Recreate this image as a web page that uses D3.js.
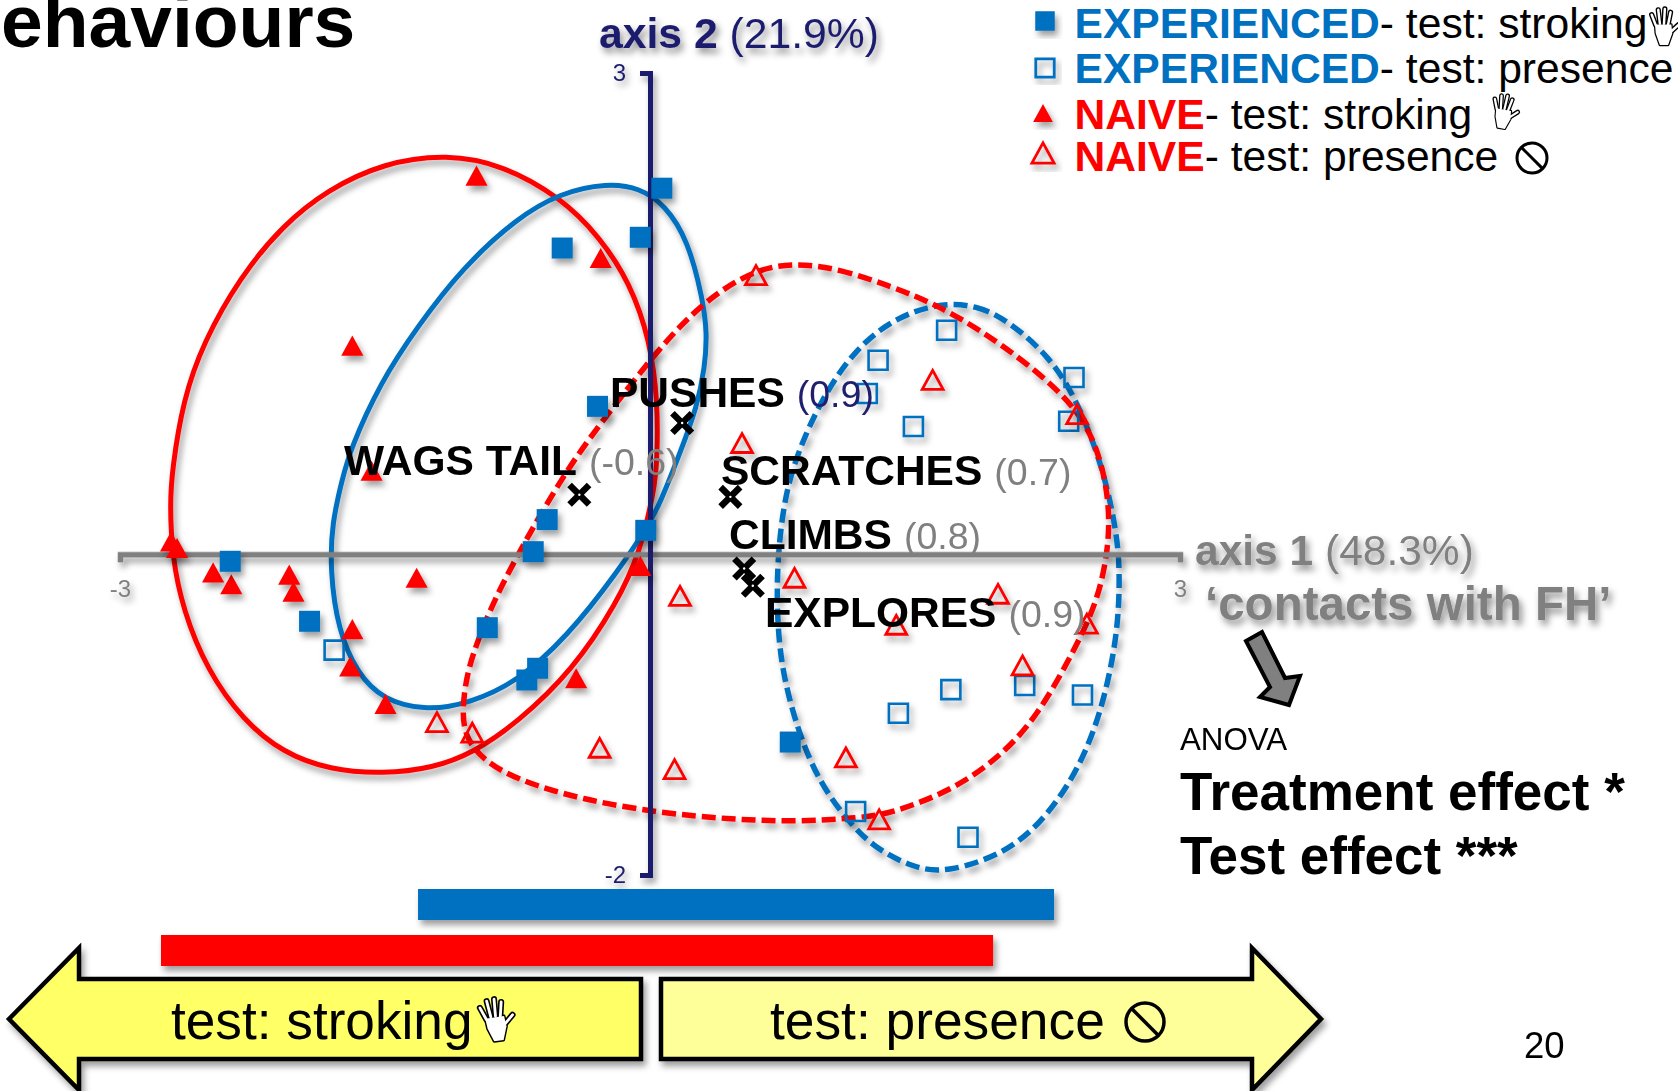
<!DOCTYPE html>
<html><head><meta charset="utf-8">
<script src="https://cdn.jsdelivr.net/npm/d3@7"></script>
<style>body{margin:0;background:#fff}svg{display:block}text{font-family:"Liberation Sans",Arial,sans-serif}</style>
</head><body><svg id="c" width="1678" height="1091"></svg>
<script>
// ---- data, in axis units ----
const expStroking=[[.067,2.293],[-.055,1.987],[-.497,1.92],[-.297,.933],[-.582,.227],[-.661,.027],[-.024,.16],[-2.376,-.033],[-1.927,-.407],[-.921,-.447],[-.636,-.70],[-.697,-.773],[.794,-1.16]];
const expPresence=[[1.679,1.407],[1.291,1.22],[1.23,1.013],[1.491,.807],[2.4,1.113],[2.37,.84],[-1.788,-.587],[1.703,-.833],[1.406,-.98],[2.121,-.807],[2.448,-.867],[1.164,-1.593],[1.8,-1.753]];
const naiveStroking=[[-.982,2.36],[-.279,1.847],[-1.685,1.3],[-1.576,.52],[-2.711,.079],[-2.677,.039],[-2.473,-.113],[-2.37,-.187],[-2.042,-.127],[-2.018,-.233],[-1.321,-.147],[-1.685,-.467],[-1.697,-.70],[-1.497,-.933],[-.418,-.773],[-.055,-.073]];
const naivePresence=[[.6,1.74],[1.6,1.087],[2.418,.873],[.521,.693],[.17,-.26],[.818,-.147],[1.97,-.247],[2.473,-.433],[1.394,-.44],[2.109,-.693],[1.109,-1.267],[1.297,-1.653],[.139,-1.34],[-.285,-1.207],[-1.006,-1.113],[-1.206,-1.047]];
const behaviourNames=["PUSHES","WAGS TAIL","SCRATCHES","CLIMBS","EXPLORES"];
const behaviourLoadings=["(0.9)","(-0.6)","(0.7)","(0.8)","(0.9)"];
const behaviourPoints=[[.182,.827],[-.4,.38],[.455,.367],[.533,-.08],[.582,-.187]];
const outlineNaiveStroking=[[-1.149,2.495],[-.832,2.426],[-.509,2.227],[-.283,1.977],[-.113,1.691],[0,1.335],[.045,.943],[.04,.587],[.028,.419],[-.057,.007],[-.187,-.304],[-.436,-.722],[-.753,-1.052],[-1.002,-1.239],[-1.228,-1.333],[-1.511,-1.37],[-1.811,-1.345],[-2.077,-1.239],[-2.304,-1.034],[-2.507,-.722],[-2.643,-.348],[-2.705,-.017],[-2.717,.319],[-2.705,.525],[-2.643,.961],[-2.53,1.317],[-2.321,1.728],[-2.077,2.052],[-1.828,2.27],[-1.511,2.439]];
const outlineExpStroking=[[-.243,2.314],[-.057,2.283],[.085,2.177],[.215,1.959],[.3,1.585],[.323,1.379],[.311,1.167],[.266,.918],[.17,.631],[.057,.319],[0,.195],[-.187,-.117],[-.47,-.516],[-.753,-.797],[-1.019,-.928],[-1.262,-.977],[-1.511,-.909],[-1.658,-.741],[-1.766,-.473],[-1.811,-.098],[-1.8,.195],[-1.743,.463],[-1.698,.65],[-1.528,1.067],[-1.319,1.416],[-1.058,1.79],[-.753,2.096],[-.509,2.252]];
const outlineNaivePresence=[[.809,1.815],[1.058,1.784],[1.375,1.666],[1.624,1.554],[1.868,1.398],[2.134,1.192],[2.417,.918],[2.547,.631],[2.604,.294],[2.592,.007],[2.53,-.304],[2.394,-.616],[2.19,-1.015],[1.981,-1.264],[1.715,-1.47],[1.375,-1.613],[1.189,-1.645],[.809,-1.669],[.436,-1.651],[.057,-1.613],[-.379,-1.532],[-.753,-1.408],[-.945,-1.283],[-1.047,-1.14],[-1.064,-.971],[-1.036,-.741],[-.974,-.535],[-.889,-.304],[-.736,.026],[-.481,.512],[-.266,.837],[.057,1.292],[.3,1.572],[.583,1.772]];
const outlineExpPresence=[[1.624,1.566],[1.851,1.554],[2.038,1.448],[2.264,1.229],[2.417,.961],[2.564,.544],[2.643,.132],[2.66,-.117],[2.649,-.491],[2.564,-.953],[2.434,-1.327],[2.247,-1.638],[2.021,-1.863],[1.681,-1.987],[1.489,-1.956],[1.262,-1.825],[1.115,-1.657],[.962,-1.426],[.849,-1.14],[.753,-.766],[.719,-.429],[.719,-.036],[.764,.382],[.849,.668],[.962,.943],[1.132,1.242],[1.358,1.46]];
const rangeExperienced=[-1.313,2.287];
const rangeNaive=[-2.768,1.942];
const xTicks=[-3,3], yTicks=[-2,3];
const legendGroups=["EXPERIENCED","EXPERIENCED","NAIVE","NAIVE"];
const legendTests=["- test: stroking","- test: presence","- test: stroking ","- test: presence "];

// ---- layout ----
const BLUE="#0070C0",RED="#FF0000",NAVY="#1F1F6E",GREY="#808080";
const svg=d3.select("#c");
const x=d3.scaleLinear().domain([-3,3]).range([120,1180]);
const y=d3.scaleLinear().domain([-2,3]).range([875,73]);
const defs=svg.append("defs");
function shadow(id,dx,dy,sd,op){const f=defs.append("filter").attr("id",id).attr("x","-30%").attr("y","-30%").attr("width","170%").attr("height","170%");
 f.append("feDropShadow").attr("dx",dx).attr("dy",dy).attr("stdDeviation",sd).attr("flood-color","#000").attr("flood-opacity",op);}
shadow("sh",3,5,3,.38);shadow("shT",3,5,3.5,.45);
function txt(g,x0,y0,size,weight,fill,s){return g.append("text").attr("x",x0).attr("y",y0).attr("font-size",size).attr("font-weight",weight).attr("fill",fill).text(s);}

// title
txt(svg,1,47,75,"bold","#000","ehaviours");

// outlines
const loop=d3.line().x(d=>x(d[0])).y(d=>y(d[1])).curve(d3.curveBasisClosed);
const gOut=svg.append("g").attr("fill","none").attr("filter","url(#sh)");
[[outlineNaiveStroking,RED,null,5],[outlineExpStroking,BLUE,null,5],[outlineExpPresence,BLUE,"14 6",5.5],[outlineNaivePresence,RED,"14 6",5.5]].forEach(([p,c,dash,w])=>{
 gOut.append("path").attr("d",loop(p)).attr("stroke",c).attr("stroke-width",w).attr("stroke-dasharray",dash);
});

// axes
const axX=svg.append("g").attr("transform",`translate(0,${y(0)})`).attr("filter","url(#sh)")
 .call(d3.axisBottom(x).tickValues(xTicks).tickFormat(d=>String(d)).tickSizeOuter(0).tickSize(8).tickPadding(18));
axX.select(".domain").attr("stroke",GREY).attr("stroke-width",5.5);
axX.selectAll(".tick line").attr("stroke",GREY).attr("stroke-width",4);
axX.selectAll("text").attr("fill",GREY).attr("font-size",24).attr("font-family",null);
const axY=svg.append("g").attr("transform",`translate(${x(0)},0)`)
 .call(d3.axisLeft(y).tickValues(yTicks).tickFormat(d=>String(d)).tickSizeOuter(0).tickSize(10).tickPadding(14));
axY.select(".domain").attr("stroke",NAVY).attr("stroke-width",5);
axY.selectAll(".tick line").attr("stroke",NAVY).attr("stroke-width",4);
axY.selectAll("text").attr("fill",NAVY).attr("font-size",24).attr("font-family",null);
axY.attr("filter","url(#sh)");

// axis titles
const at1=txt(svg,1195,565,42.5,"bold",GREY,"axis 1").attr("filter","url(#shT)");
at1.append("tspan").attr("font-weight","normal").text(" (48.3%)");
const at2=txt(svg,599,48,42.7,"bold",NAVY,"axis 2").attr("filter","url(#shT)");
at2.append("tspan").attr("font-weight","normal").text(" (21.9%)");
txt(svg,1205,620,47.5,"bold",GREY,"\u2018contacts with FH\u2019").attr("filter","url(#shT)");

// markers
const tri={draw(ctx,size){const w=Math.sqrt(size)*1.07,h=Math.sqrt(size)*.97;ctx.moveTo(0,-h/2);ctx.lineTo(w/2,h/2);ctx.lineTo(-w/2,h/2);ctx.closePath();}};
const symSq=d3.symbol(d3.symbolSquare), symTri=d3.symbol(tri);
function marks(data,gen,size,fill,stroke,sw,nudge){
 const g=svg.append("g").attr("filter","url(#sh)");
 g.selectAll("path").data(data).join("path")
  .attr("transform",d=>`translate(${x(d[0])},${y(d[1])+nudge})`)
  .attr("d",gen.size(size)()).attr("fill",fill).attr("stroke",stroke).attr("stroke-width",sw);
}
marks(expPresence,symSq,361,"none",BLUE,2.6,1.8);
marks(naivePresence,symTri,380,"none",RED,2.8,0);
marks(naiveStroking,symTri,430,RED,"none",0,0);
marks(expStroking,symSq,441,BLUE,"none",0,1.8);

// behaviour crosses and labels
const gCross=svg.append("g").attr("transform","translate(0,1.5)");
gCross.selectAll("path.x").data(behaviourPoints).join("path").attr("class","x")
 .attr("transform",d=>`translate(${x(d[0])},${y(d[1])})`)
 .attr("d",d3.symbol(d3.symbolTimes).size(250)()).attr("fill","none").attr("stroke","#000").attr("stroke-width",6.5);
gCross.selectAll("circle").data(behaviourPoints).join("circle")
 .attr("cx",d=>x(d[0])).attr("cy",d=>y(d[1])).attr("r",1.2).attr("fill","#fff");
const labelPos=[[610,407],[344,475],[721,485],[729,549],[765,627]];
behaviourNames.forEach((n,i)=>{
 const t=txt(svg,labelPos[i][0],labelPos[i][1],42.5,"bold","#000",n);
 t.append("tspan").attr("font-weight","normal").attr("font-size",37.5).attr("fill",i==0?NAVY:GREY).attr("dx",12).text(behaviourLoadings[i]);
});

// range bars
const barG=svg.append("g").attr("filter","url(#sh)");
barG.append("rect").attr("x",x(rangeExperienced[0])).attr("width",x(rangeExperienced[1])-x(rangeExperienced[0])).attr("y",889).attr("height",31).attr("fill",BLUE);
barG.append("rect").attr("x",x(rangeNaive[0])).attr("width",x(rangeNaive[1])-x(rangeNaive[0])).attr("y",935).attr("height",31).attr("fill",RED);

// icons
function hand(cx,cy,s,rot){
 const g=svg.append("g").attr("transform",`translate(${cx},${cy}) rotate(${rot}) scale(${s})`).attr("fill","none").attr("stroke-linecap","round");
 const segs=[[-10,-2,-15,-15],[-5,-4,-7,-21],[0,-4,1,-22],[5,-3,8,-18],[7,7,18,-3]];
 const palm="M-11,-3 L9,-3 L10,8 L5,22 L-5,22 L-10,8 Z";
 segs.forEach(q=>g.append("line").attr("x1",q[0]).attr("y1",q[1]).attr("x2",q[2]).attr("y2",q[3]).attr("stroke","#000").attr("stroke-width",6.4));
 g.append("path").attr("d",palm).attr("fill","#000").attr("stroke","#000").attr("stroke-width",3).attr("stroke-linejoin","round");
 segs.forEach(q=>g.append("line").attr("x1",q[0]).attr("y1",q[1]).attr("x2",q[2]).attr("y2",q[3]).attr("stroke","#fff").attr("stroke-width",3));
 g.append("path").attr("d",palm).attr("fill","#fff").attr("stroke","none");
}
function noSign(cx,cy,r,sw){
 const g=svg.append("g").attr("fill","none").attr("stroke","#000").attr("stroke-width",sw);
 g.append("circle").attr("cx",cx).attr("cy",cy).attr("r",r);
 const k=r*.707;g.append("line").attr("x1",cx-k).attr("y1",cy-k).attr("x2",cx+k).attr("y2",cy+k);
}

// legend
const legY=[38,83,129,171];
const legMark=[[1045,21],[1045,68],[1043,113],[1043,153]];
const legSym=[symSq.size(380)(),symSq.size(340)(),symTri.size(340)(),symTri.size(430)()];
const legFill=[BLUE,"none",RED,"none"], legStroke=["none",BLUE,"none",RED];
legendGroups.forEach((n,i)=>{
 svg.append("path").attr("filter","url(#sh)").attr("transform",`translate(${legMark[i][0]},${legMark[i][1]})`)
  .attr("d",legSym[i]).attr("fill",legFill[i]).attr("stroke",legStroke[i]).attr("stroke-width",2.8);
 const t=txt(svg,1074.5,legY[i],42.6,"bold",i<2?BLUE:RED,n);
 t.append("tspan").attr("font-weight","normal").attr("fill","#000").text(legendTests[i]);
});
hand(1664,27,.82,0);hand(1504,112,.75,10);noSign(1532,158,15,3);

// arrows
const poly=d3.line();
const arrows=svg.append("g").attr("filter","url(#sh)").attr("stroke","#000").attr("stroke-width",4.5).attr("stroke-linejoin","miter");
arrows.append("path").attr("d",poly([[9,1019],[79,948],[79,979],[641,979],[641,1059],[79,1059],[79,1090]])+"Z").attr("fill","#FFFF66");
arrows.append("path").attr("d",poly([[661,979],[1252,979],[1252,948],[1321,1019],[1252,1090],[1252,1059],[661,1059]])+"Z").attr("fill","#FFFF99");
txt(svg,171,1039,53.2,"normal","#000","test: stroking");
txt(svg,770,1039,53.3,"normal","#000","test: presence");
hand(496,1020,.95,-8);noSign(1145,1022,19,3.5);

// grey pointer
svg.append("path").attr("d",poly([[1246,641],[1262,632],[1285,678],[1300,676],[1289,705],[1260,697],[1270,687]])+"Z")
 .attr("fill",GREY).attr("stroke","#000").attr("stroke-width",4);

// ANOVA
txt(svg,1180,750,31.3,"normal","#000","ANOVA");
txt(svg,1180,810,53,"bold","#000","Treatment effect *");
txt(svg,1180,874,53,"bold","#000","Test effect ***");
txt(svg,1524,1058,36.5,"normal","#000","20");
</script></body></html>
